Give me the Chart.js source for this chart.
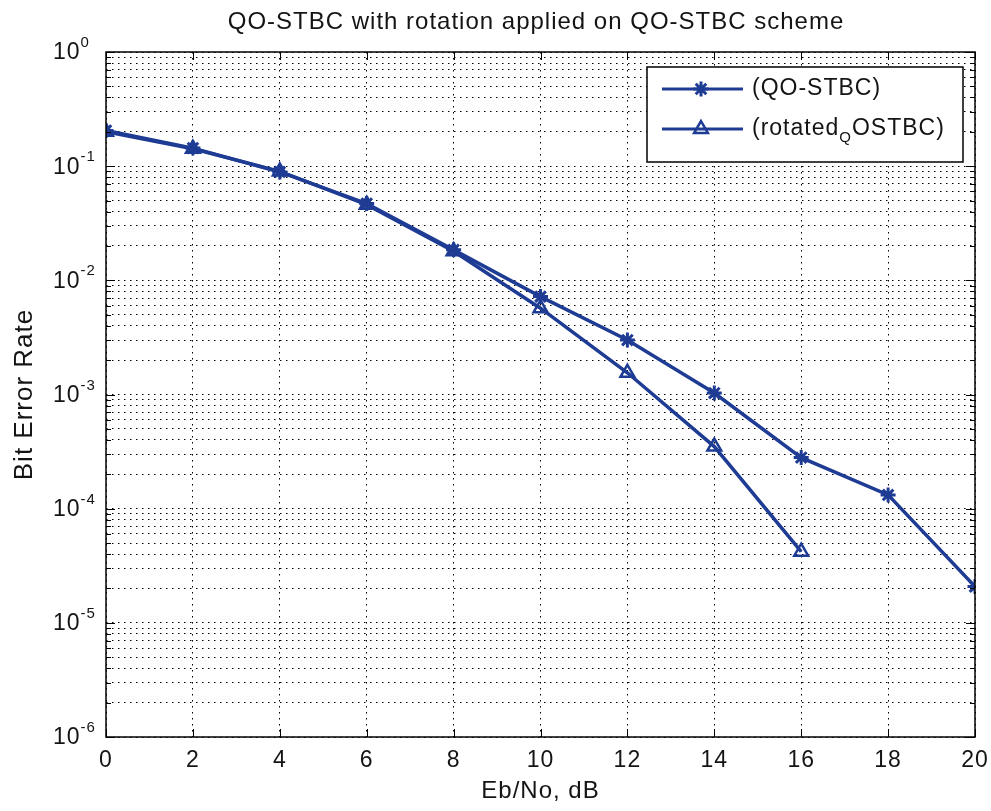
<!DOCTYPE html>
<html>
<head>
<meta charset="utf-8">
<script src="https://cdn.jsdelivr.net/npm/chart.js@4.4.0/dist/chart.umd.min.js"></script>
<style>
  html, body { margin: 0; padding: 0; background: #fff; }
</style>
</head>
<body>
<canvas id="c" width="991" height="811"></canvas>
<script>
// values
const ebno = [0, 2, 4, 6, 8, 10, 12, 14, 16, 18, 20];
const berQO = [0.205, 0.144, 0.089, 0.047, 0.0185, 0.0072, 0.0030, 0.00103, 0.00028, 0.000132, 0.0000208];
const ebnoRot = [0, 2, 4, 6, 8, 10, 12, 14, 16];
const berRot = [0.2, 0.142, 0.09, 0.046, 0.018, 0.0057, 0.00155, 0.00035, 0.000042];
const decades = [-6, -5, -4, -3, -2, -1, 0];
const minorSteps = [1, 2, 3, 4, 5, 6, 7, 8, 9];
const seriesNames = ['(QO-STBC)', '(rotated', 'Q', 'OSTBC)'];
const titleText = 'QO-STBC with rotation applied on QO-STBC scheme';

const FONT = '"Liberation Sans", Arial, sans-serif';
const blue = '#1f3c94';
const txt = '#141414';

const pts = (xs, ys) => xs.map((v, i) => ({x: v, y: ys[i]}));

const overlay = {
  id: 'overlay',
  beforeDraw(chart) {
    // the reference text is spaced a bit wider than plain Arial
    chart.ctx.letterSpacing = '1px';
  },
  afterDraw(chart) {
    const {ctx, chartArea: a, scales: {x, y}} = chart;
    ctx.save();
    ctx.letterSpacing = '1px';
    // axes box
    ctx.strokeStyle = '#000';
    ctx.lineWidth = 1.5;
    ctx.strokeRect(a.left, a.top, a.right - a.left, a.bottom - a.top);
    // inward tick marks
    ctx.lineWidth = 1;
    ctx.beginPath();
    y.ticks.forEach(t => {
      const py = Math.round(y.getPixelForValue(t.value)) + 0.5;
      const len = t.major ? 9 : 5;
      ctx.moveTo(a.left, py); ctx.lineTo(a.left + len, py);
      ctx.moveTo(a.right, py); ctx.lineTo(a.right - len, py);
    });
    x.ticks.forEach(t => {
      const px = Math.round(x.getPixelForValue(t.value)) + 0.5;
      ctx.moveTo(px, a.bottom); ctx.lineTo(px, a.bottom - 8);
      ctx.moveTo(px, a.top); ctx.lineTo(px, a.top + 8);
    });
    ctx.stroke();

    // y tick labels 10^n
    ctx.fillStyle = txt;
    decades.forEach(d => {
      const py = y.getPixelForValue(Math.pow(10, d));
      ctx.font = '23px ' + FONT;
      ctx.textAlign = 'left';
      ctx.textBaseline = 'middle';
      ctx.fillText('10', 53, py + 1);
      const w = ctx.measureText('10').width;
      ctx.font = '15px ' + FONT;
      ctx.textBaseline = 'alphabetic';
      ctx.fillText(String(d), 53 + w, py - 5);
    });

    // title
    ctx.font = '24px ' + FONT;
    ctx.textAlign = 'center';
    ctx.textBaseline = 'middle';
    ctx.fillText(titleText, 536, 22);

    // legend
    const lx = 647, ly = 67, lw = 316, lh = 95;
    ctx.fillStyle = '#fff';
    ctx.fillRect(lx, ly, lw, lh);
    ctx.strokeStyle = '#000';
    ctx.lineWidth = 1.5;
    ctx.strokeRect(lx, ly, lw, lh);
    const rows = [89, 129];
    chart.data.datasets.forEach((ds, i) => {
      const ry = rows[i];
      ctx.strokeStyle = ds.borderColor;
      ctx.lineWidth = 3;
      ctx.beginPath();
      ctx.moveTo(662, ry); ctx.lineTo(743, ry);
      ctx.stroke();
      ctx.fillStyle = ds.pointBackgroundColor;
      ctx.lineWidth = ds.pointBorderWidth;
      Chart.helpers.drawPoint(ctx, {pointStyle: ds.pointStyle, radius: ds.pointRadius, rotation: 0, borderWidth: ds.pointBorderWidth}, 701, ry);
    });
    ctx.fillStyle = txt;
    ctx.font = '23px ' + FONT;
    ctx.textAlign = 'left';
    ctx.textBaseline = 'middle';
    ctx.fillText(seriesNames[0], 752, rows[0]);
    let tx = 752;
    ctx.fillText(seriesNames[1], tx, rows[1]);
    tx += ctx.measureText(seriesNames[1]).width;
    ctx.font = '15px ' + FONT;
    ctx.fillText(seriesNames[2], tx, rows[1] + 9);
    tx += ctx.measureText(seriesNames[2]).width;
    ctx.font = '23px ' + FONT;
    ctx.fillText(seriesNames[3], tx, rows[1]);
    ctx.restore();
  }
};

new Chart(document.getElementById('c'), {
  type: 'line',
  data: {
    datasets: [{
      label: '(QO-STBC)',
      data: pts(ebno, berQO),
      borderColor: blue,
      backgroundColor: blue,
      borderWidth: 3.5,
      pointStyle: 'star',
      pointRadius: 7.5,
      pointBorderWidth: 3,
      pointBorderColor: blue,
      pointBackgroundColor: blue
    }, {
      label: '(rotated_Q OSTBC)',
      data: pts(ebnoRot, berRot),
      borderColor: blue,
      backgroundColor: 'rgba(255,255,255,0)',
      borderWidth: 3.5,
      pointStyle: 'triangle',
      pointRadius: 8,
      pointBorderWidth: 2.5,
      pointBorderColor: blue,
      pointBackgroundColor: 'rgba(255,255,255,0)'
    }]
  },
  options: {
    responsive: false,
    animation: false,
    devicePixelRatio: 1,
    layout: {padding: {top: 52, right: 16, left: 0, bottom: 0}},
    plugins: {legend: {display: false}, title: {display: false}, tooltip: {enabled: false}},
    scales: {
      x: {
        type: 'linear',
        min: 0,
        max: 20,
        ticks: {stepSize: 2, font: {size: 23, family: FONT}, color: txt, padding: 10},
        grid: {color: '#000', lineWidth: 1, drawTicks: false},
        border: {display: false, dash: [1.5, 4.5]},
        title: {display: true, text: 'Eb/No, dB', font: {size: 24, family: FONT}, color: txt, padding: {top: 0, bottom: 5}},
        afterFit: s => { s.height = 74; s.paddingLeft = 0; s.paddingRight = 0; }
      },
      y: {
        type: 'logarithmic',
        min: 1e-6,
        max: 1,
        afterBuildTicks: s => {
          const t = [];
          decades.forEach(d => minorSteps.forEach(m => {
            if (d === 0 && m > 1) return;
            t.push({value: m * Math.pow(10, d), major: m === 1});
          }));
          s.ticks = t;
        },
        ticks: {display: false},
        grid: {color: '#000', lineWidth: 1, drawTicks: false},
        border: {display: false, dash: [1.5, 4.5]},
        title: {display: true, text: 'Bit Error Rate', font: {size: 26, family: FONT}, color: txt, padding: {top: 9, bottom: 0}},
        afterFit: s => { s.width = 106; s.paddingTop = 0; s.paddingBottom = 0; }
      }
    }
  },
  plugins: [overlay]
});
</script>
</body>
</html>
